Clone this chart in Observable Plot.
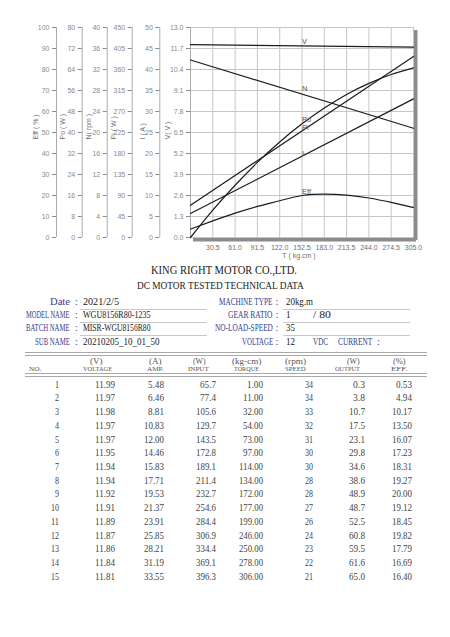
<!DOCTYPE html>
<html><head><meta charset="utf-8">
<script src="https://cdn.jsdelivr.net/npm/d3@7"></script>
<script src="https://cdn.jsdelivr.net/npm/@observablehq/plot@0.6"></script>
<style>
html,body{margin:0;padding:0;background:#fff;}
body{width:450px;height:637px;position:relative;overflow:hidden;}
#chart svg{display:block;}
#sheet{position:absolute;left:0;top:0;width:450px;height:637px;}
.t{position:absolute;white-space:pre;font-family:"Liberation Serif","DejaVu Serif",serif;}
.hr{position:absolute;height:0;border-top:1px solid #b0b0b0;}
</style></head><body>
<div id="chart"></div><div id="sheet"></div>
<script>
// ---------- chart data ----------
const torque = [0, 30.5, 61, 91.5, 122, 152.5, 183, 213.5, 244, 274.5, 305];
const effCurve = [4.0, 7.9, 11.6, 14.8, 17.5, 20.0, 20.7, 20.2, 18.8, 16.7, 14.3];
const poCurve = [0, 10.4, 19.9, 28.6, 36.4, 43.3, 49.3, 54.5, 58.7, 62.1, 64.6];
const lineEnds = [0, 305];
const vLine = [11.94, 11.78];
const nLine = [33.8, 20.8];
const iLine = [5.7, 33.0];
const piLine = [69, 388];

const effTicks = [0, 10, 20, 30, 40, 50, 60, 70, 80, 90, 100];
const poTicks = [0, 8, 16, 24, 32, 40, 48, 56, 64, 72, 80];
const nTicks = [0, 4, 8, 12, 16, 20, 24, 28, 32, 36, 40];
const piTicks = [0, 45, 90, 135, 180, 225, 270, 315, 360, 405, 450];
const iTicks = [0, 5, 10, 15, 20, 25, 30, 35, 40, 45, 50];
const vTicks = ["0.0", "1.3", "2.6", "3.9", "5.2", "6.5", "7.8", "9.1", "10.4", "11.7", "13.0"];
const tTicks = ["30.5", "61.0", "91.5", "122.0", "152.5", "183.0", "213.5", "244.0", "274.5", "305.0"];

const curveNames = ["V", "N", "Po", "Pi", "I", "Eff"];
const labelT = 152.5;
const labelVals = [12.12, 28.3, 45.1, 235.7, 20.0, 21.8];

// ---------- table data ----------
const tblNo = [1,2,3,4,5,6,7,8,9,10,11,12,13,14,15];
const tblVoltage = [11.99,11.97,11.98,11.97,11.97,11.95,11.94,11.94,11.92,11.91,11.89,11.87,11.86,11.84,11.81];
const tblAmp = [5.48,6.46,8.81,10.83,12.00,14.46,15.83,17.71,19.53,21.37,23.91,25.85,28.21,31.19,33.55];
const tblInput = [65.7,77.4,105.6,129.7,143.5,172.8,189.1,211.4,232.7,254.6,284.4,306.9,334.4,369.1,396.3];
const tblTorque = [1,11,32,54,73,97,114,134,172,177,199,246,250,278,306];
const tblSpeed = [34,34,33,32,31,30,30,28,28,27,26,24,23,22,21];
const tblOutput = [0.3,3.8,10.7,17.5,23.1,29.8,34.6,38.6,48.9,48.7,52.5,60.8,59.5,61.6,65.0];
const tblEff = [0.53,4.94,10.17,13.50,16.07,17.23,18.31,19.27,20.00,19.12,18.45,19.82,17.79,16.69,16.40];

// ---------- build chart ----------
const vMax = +vTicks[vTicks.length - 1];
const series = [
  {key: "V", max: 13, T: lineEnds, vals: vLine},
  {key: "N", max: 40, T: lineEnds, vals: nLine},
  {key: "Po", max: 80, T: torque, vals: poCurve},
  {key: "Pi", max: 450, T: torque.length ? lineEnds : lineEnds, vals: piLine},
  {key: "I", max: 50, T: lineEnds, vals: iLine},
  {key: "Eff", max: 100, T: torque, vals: effCurve}
];
const rows = series.flatMap(s => s.T.map((t, i) => ({key: s.key, T: t, y: s.vals[i] * vMax / s.max})));
const labels = curveNames.map((n, i) => ({n, T: labelT, y: labelVals[i] * vMax / series[i].max}));

const axes = [
  {name: "Eff ( % )", ticks: effTicks.map(String), vals: effTicks, max: 100, off: 134, lab: 155},
  {name: "Po ( W )", ticks: poTicks.map(String), vals: poTicks, max: 80, off: 108.3, lab: 128},
  {name: "N( rpm )", ticks: nTicks.map(String), vals: nTicks, max: 40, off: 83.3, lab: 102},
  {name: "Pi ( W )", ticks: piTicks.map(String), vals: piTicks, max: 450, off: 58.3, lab: 77},
  {name: "I ( A )", ticks: iTicks.map(String), vals: iTicks, max: 50, off: 30.7, lab: 48},
  {name: "V( V )", ticks: vTicks, vals: vTicks.map(Number), max: 13, off: 0, lab: 23}
];

const axisMarks = axes.flatMap(a => {
  const pos = a.vals.map(v => v * vMax / a.max);
  const fmt = new Map(pos.map((p, i) => [p, a.ticks[i]]));
  return [
    Plot.ruleX([0], {y1: 0, y2: vMax, dx: -a.off, stroke: "#aaaaaa", strokeWidth: 1}),
    Plot.axisY(pos, {anchor: "left", dx: -a.off, tickSize: 4, tickPadding: 3,
      tickFormat: d => fmt.get(d), label: null, fontSize: 7, color: "#8a8a8a", textStroke: "none"}),
    Plot.text([a.name], {frameAnchor: "left", dx: -a.lab, dy: 7, rotate: -90, fontSize: 7, fill: "#707070"})
  ];
});

const chart = Plot.plot({
  width: 450,
  height: 263,
  marginLeft: 190,
  marginRight: 37,
  marginTop: 27,
  marginBottom: 26,
  x: {domain: [0, 305], axis: null},
  y: {domain: [0, vMax], axis: null},
  style: {fontFamily: "'Liberation Sans Narrow','Liberation Sans',Arial,sans-serif", fontSize: "7px", background: "#fff", color: "#707070", overflow: "visible"},
  marks: [
    Plot.ruleX([305], {y1: 0, y2: vMax, dx: 2, dy: 3, stroke: "#8c8c8c", strokeWidth: 4}),
    Plot.ruleY([0], {x1: 0, x2: 305, dx: 3, dy: 2, stroke: "#8c8c8c", strokeWidth: 4}),
    Plot.ruleX([0, ...tTicks.map(Number)], {stroke: "#c6c6c6"}),
    Plot.ruleY(vTicks.map(Number), {stroke: "#c6c6c6"}),
    ...axisMarks,
    Plot.axisX(tTicks.map(Number), {anchor: "bottom", tickSize: 0, tickPadding: 8, tickFormat: d => d.toFixed(1), label: null, fontSize: 7, color: "#707070"}),
    Plot.text(["T ( kg.cm )"], {frameAnchor: "bottom", dy: 20, dx: -3, fontSize: 7, fill: "#707070"}),
    Plot.line(rows, {x: "T", y: "y", z: "key", curve: "natural", stroke: "#1c1c1c", strokeWidth: 1.2}),
    Plot.text(labels, {x: "T", y: "y", text: "n", textAnchor: "start", fontSize: 7.5, fill: "#555"})
  ]
});
document.getElementById("chart").appendChild(chart);

// ---------- data sheet below the chart ----------
const sheet = document.getElementById("sheet");
function put(text, x, y, o) {
  const el = document.createElement("div");
  el.className = "t";
  el.textContent = text;
  el.style.fontSize = o.fs + "px";
  el.style.lineHeight = o.fs + "px";
  el.style.color = o.color || "#222";
  el.style.top = (y - o.fs * 0.52) + "px";
  el.style.left = "0px";
  sheet.appendChild(el);
  const w = el.getBoundingClientRect().width || 1;
  const target = o.cw ? text.length * o.cw : w;
  const s = target / w;
  const a = o.anchor || "start";
  const left = a === "start" ? x : a === "end" ? x - target : x - target / 2;
  el.style.left = left + "px";
  el.style.transformOrigin = "0 0";
  el.style.transform = `scaleX(${s})`;
}
function hr(x1, x2, y, color) {
  const el = document.createElement("div");
  el.className = "hr";
  el.style.left = x1 + "px";
  el.style.width = (x2 - x1) + "px";
  el.style.top = y + "px";
  if (color) el.style.borderTopColor = color;
  sheet.appendChild(el);
}

const BLUE = "#34428f";
put("KING RIGHT MOTOR CO.,LTD.", 223.7, 270, {fs: 12.5, cw: 5.84, anchor: "middle", color: "#1a1a1a"});
put("DC MOTOR TESTED TECHNICAL DATA", 220.7, 285.5, {fs: 10.8, cw: 5.56, anchor: "middle", color: "#1a1a1a"});

const infoY = [302.5, 315.5, 328.3, 341.8];
const leftLabels = ["Date", "MODEL NAME", "BATCH NAME", "SUB NAME"];
const leftValues = ["2021/2/5", "WGU8156R80-1235", "MISR-WGU8156R80", "20210205_10_01_50"];
const rightLabels = ["MACHINE TYPE", "GEAR RATIO", "NO-LOAD-SPEED", "VOLTAGE"];
const rightValues = ["20kg.m", "1", "35", "12"];
leftLabels.forEach((t, i) => {
  put(t, 69.5, infoY[i], {fs: 10, cw: t === "Date" ? 5 : 4.35, anchor: "end", color: BLUE});
  put(":", 76.5, infoY[i], {fs: 10, anchor: "middle", color: BLUE});
  put(leftValues[i], 82.7, infoY[i], {fs: 10, cw: 4.5, color: "#222"});
});
rightLabels.forEach((t, i) => {
  put(t, 272.7, infoY[i], {fs: 10, cw: 4.45, anchor: "end", color: BLUE});
  put(":", 277, infoY[i], {fs: 10, anchor: "middle", color: BLUE});
  put(rightValues[i], 286, infoY[i], {fs: 10, cw: 4.5, color: "#222"});
});
put("/ 80", 313, infoY[1], {fs: 10, cw: 4.5, color: "#222"});
put("VDC", 313.3, infoY[3], {fs: 10, cw: 5, color: BLUE});
put("CURRENT", 338, infoY[3], {fs: 10, cw: 4.9, color: BLUE});
put(":", 378.3, infoY[3], {fs: 10, anchor: "middle", color: BLUE});
[308.5, 321.7, 334.8].forEach(y => { hr(80, 207, y, "#c8c8c8"); hr(283, 410, y, "#c8c8c8"); });

hr(25, 427, 352.3, "#a8a8a8"); hr(25, 427, 354.5, "#a8a8a8");
hr(25, 427, 373.3, "#a8a8a8"); hr(25, 427, 375.5, "#a8a8a8");

const headUnits = ["", "(V)", "(A)", "(W)", "(kg-cm)", "(rpm)", "(W)", "(%)"];
const headNames = ["NO.", "VOLTAGE", "AMP.", "INPUT", "TORQUE", "SPEED", "OUTPUT", "EFF."];
const unitX = [35, 96.7, 155, 199.3, 246.7, 295.3, 353.3, 399];
const nameX = [35, 97.5, 155, 198.7, 246.7, 295.3, 347.5, 399];
headUnits.forEach((t, i) => { if (t) put(t, unitX[i], 361.5, {fs: 7.5, cw: 4.2, anchor: "middle", color: "#555"}); });
headNames.forEach((t, i) => put(t, nameX[i], 369.3, {fs: 7, cw: 4.15, anchor: "middle", color: "#555"}));

const colRight = [59.3, 115, 164, 216, 263.3, 313.3, 365, 412.3];
const cols = [
  tblNo.map(String), tblVoltage.map(v => v.toFixed(2)), tblAmp.map(v => v.toFixed(2)),
  tblInput.map(v => v.toFixed(1)), tblTorque.map(v => v.toFixed(2)), tblSpeed.map(String),
  tblOutput.map(v => v.toFixed(1)), tblEff.map(v => v.toFixed(2))
];
tblNo.forEach((_, r) => {
  const y = 385.7 + r * 13.71;
  cols.forEach((c, j) => put(c[r], colRight[j], y, {fs: 9.5, cw: 4.0, anchor: "end", color: "#444"}));
});
</script></body></html>
